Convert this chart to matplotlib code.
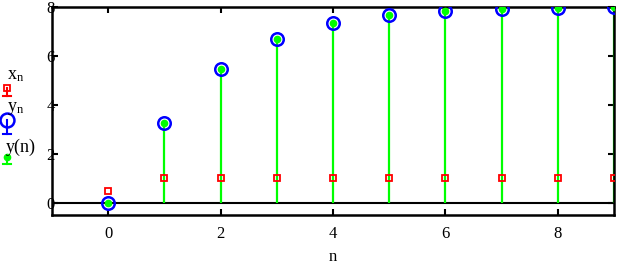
import numpy as np
import matplotlib
matplotlib.use("Agg")
import matplotlib.pyplot as plt
from matplotlib.lines import Line2D

# --- Data ---
n = [0, 1, 2, 3, 4, 5, 6, 7, 8, 9]
x_n = [0.5, 1, 1, 1, 1, 1, 1, 1, 1, 1]
y_n = [0, 3.28, 5.45, 6.68, 7.36, 7.67, 7.84, 7.93, 7.97, 7.99]
y_stem = y_n

x_ticks = [0, 2, 4, 6, 8]
y_ticks = [0, 2, 4, 6, 8]
legend_labels = ["$\\mathregular{x_n}$", "$\\mathregular{y_n}$", "y(n)"]

RED = "#ff0000"
BLUE = "#0000ff"
GREEN = "#00ff00"

plt.rcParams["font.family"] = ["Liberation Serif", "DejaVu Serif"]
plt.rcParams["mathtext.fontset"] = "custom"
plt.rcParams["mathtext.rm"] = "Liberation Serif"

fig = plt.figure(figsize=(6.23, 2.64), dpi=100)
ax = fig.add_axes([52 / 623, 1 - 215 / 264, 562 / 623, 208 / 264])

# --- Stems ---
ax.vlines(n, 0, y_stem, color=GREEN, lw=1.6, zorder=2)
ax.axhline(0, color="black", lw=1.5, zorder=1)
ax.plot(n, x_n, ls="none", marker="s", ms=5, mfc="none", mec=RED, mew=1.3, zorder=3)
ax.plot(n, y_n, ls="none", marker="o", ms=9, mfc="none", mec=BLUE, mew=1.8, zorder=3)
ax.plot(n, y_stem, ls="none", marker="o", ms=4.5, mfc=GREEN, mec=GREEN, zorder=4)

ax.set_xlim(-1, 9)
ax.set_ylim(-0.5, 8)
ax.set_xticks(x_ticks)
ax.set_yticks(y_ticks)
ax.tick_params(axis="both", direction="in", length=4, width=1.5,
               top=True, right=True, labelsize=12)
ax.tick_params(axis="x", pad=8)
ax.tick_params(axis="y", pad=1)
for lab in ax.get_yticklabels():
    lab.set_horizontalalignment("center")
for s in ax.spines.values():
    s.set_linewidth(1.8)
ax.set_xlabel("n", fontsize=12, labelpad=5)

# --- Legend on the left, label above each stem-style marker ---
def fx(px):
    return px / 623

def fy(py):
    return 1 - py / 264

styles = [
    dict(color=RED, marker="s", ms=5, mfc="none", mew=1.3),
    dict(color=BLUE, marker="o", ms=10, mfc="none", mew=1.8),
    dict(color=GREEN, marker="o", ms=4.5, mfc=GREEN, mew=1),
]
label_y = [75, 108, 147]
mark_y = [(88, 96), (120, 134), (157, 164)]
label_x = [7, 7, 6]
for lab, st, ly, (my, cap), lx in zip(legend_labels, styles, label_y, mark_y, label_x):
    fig.text(fx(lx), fy(ly), lab, fontsize=13, va="center", ha="left")
    fig.add_artist(Line2D([fx(7), fx(7)], [fy(my), fy(cap)], color=st["color"], lw=1.5))
    fig.add_artist(Line2D([fx(3), fx(11)], [fy(cap), fy(cap)], color=st["color"], lw=1.5))
    fig.add_artist(Line2D([fx(7)], [fy(my)], ls="none", marker=st["marker"], ms=st["ms"],
                          mfc=st["mfc"], mec=st["color"], mew=st["mew"]))

fig.savefig("out.png", dpi=100)
